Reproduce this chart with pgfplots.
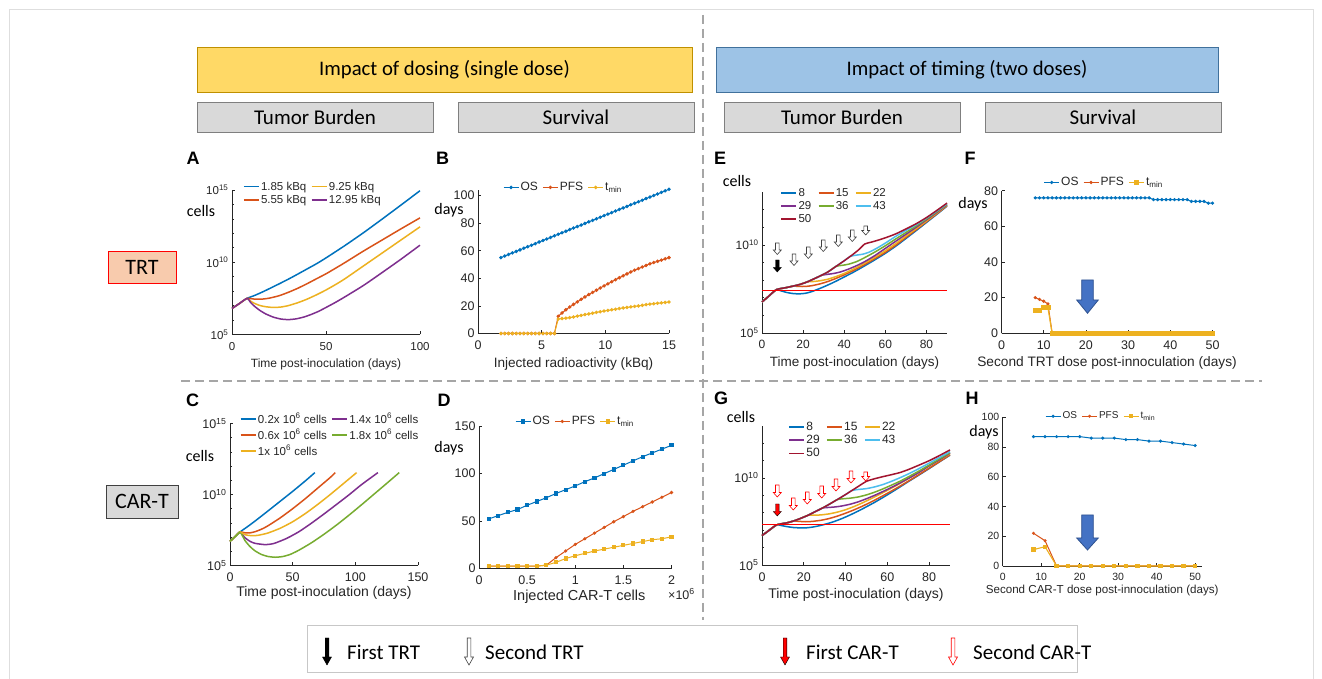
\documentclass[border=0pt]{standalone}
\usepackage{fontspec}
\setmainfont{Liberation Sans}
\newfontfamily\calibri{Carlito}
\usepackage{pgfplots}
\usepackage{pgfplotstable}
\pgfplotsset{compat=1.18}

\definecolor{mblue}{RGB}{0,114,189}
\definecolor{morange}{RGB}{217,83,25}
\definecolor{myellow}{RGB}{237,177,32}
\definecolor{mpurple}{RGB}{126,47,142}
\definecolor{mgreen}{RGB}{119,172,48}
\definecolor{mcyan}{RGB}{77,190,238}
\definecolor{mdred}{RGB}{162,20,47}
\definecolor{axc}{RGB}{38,38,38}
\definecolor{hdryel}{RGB}{255,217,102}
\definecolor{hdryelb}{RGB}{191,144,0}
\definecolor{hdrblue}{RGB}{157,195,230}
\definecolor{hdrblueb}{RGB}{65,113,156}
\definecolor{boxgray}{RGB}{217,217,217}
\definecolor{boxgrayb}{RGB}{127,127,127}
\definecolor{trtfill}{RGB}{248,203,173}
\definecolor{arrblue}{RGB}{68,114,196}
\definecolor{arrblueb}{RGB}{47,82,143}
\definecolor{dashc}{RGB}{166,166,166}

\pgfplotstableread{
x os pfs tmin
1.8 55.0 0 0
2.1 56.1 0 0
2.4 57.3 0 0
2.7 58.4 0 0
3.0 59.5 0 0
3.3 60.6 0 0
3.6 61.8 0 0
3.9 62.9 0 0
4.2 64.0 0 0
4.5 65.1 0 0
4.8 66.3 0 0
5.1 67.4 0 0
5.4 68.5 0 0
5.7 69.6 0 0
6.0 70.8 0 0
6.3 71.9 12.5 10.5
6.6 73.0 14.9 10.8
6.9 74.1 17.2 11.1
7.2 75.3 19.2 11.5
7.5 76.4 21.1 12.0
7.8 77.5 22.9 12.6
8.1 78.6 24.8 13.1
8.4 79.8 26.5 13.7
8.7 80.9 28.2 14.2
9.0 82.0 29.8 14.7
9.3 83.1 31.4 15.3
9.6 84.3 33.0 15.8
9.9 85.4 34.5 16.3
10.2 86.5 36.0 16.7
10.5 87.6 37.5 17.2
10.8 88.8 39.0 17.6
11.1 89.9 40.4 18.1
11.4 91.0 41.8 18.5
11.7 92.1 43.2 18.9
12.0 93.3 44.6 19.3
12.3 94.4 45.9 19.6
12.6 95.5 47.0 20.0
12.9 96.6 48.2 20.4
13.2 97.8 49.3 20.9
13.5 98.9 50.5 21.3
13.8 100.0 51.4 21.6
14.1 101.1 52.3 21.9
14.4 102.3 53.2 22.2
14.7 103.4 54.1 22.5
15.0 104.5 55.0 22.8
}\tabB

\pgfplotstableread{
x os pfs tmin
0.1 52 2 2
0.2 55.5 2 2
0.3 59 2 2
0.4 62 2 2
0.5 66.5 2 2
0.6 70.5 2 2
0.7 74.5 3 3
0.8 79 11 6
0.9 83 18 10
1.0 87 25 13
1.1 91.5 31 15.5
1.2 95.5 37 18
1.3 100 43 20
1.4 104.5 49 22
1.5 109 54.5 24
1.6 113.5 60 26
1.7 118 65 28
1.8 122 70 30
1.9 126 75 31
2.0 130 80 33
}\tabD

\pgfplotstableread{
t os pfs tmin
8 76 20 13
9 76 19 13
10 76 18 14.5
11 76 16.5 14.5
12 76 0 0
13 76 0 0
14 76 0 0
15 76 0 0
16 76 0 0
17 76 0 0
18 76 0 0
19 76 0 0
20 76 0 0
21 76 0 0
22 76 0 0
23 76 0 0
24 76 0 0
25 76 0 0
26 76 0 0
27 76 0 0
28 76 0 0
29 76 0 0
30 76 0 0
31 76 0 0
32 76 0 0
33 76 0 0
34 76 0 0
35 76 0 0
36 75 0 0
37 75 0 0
38 75 0 0
39 75 0 0
40 75 0 0
41 75 0 0
42 75 0 0
43 75 0 0
44 75 0 0
45 74 0 0
46 74 0 0
47 74 0 0
48 74 0 0
49 73 0 0
50 73 0 0
}\tabF

\pgfplotstableread{
t os pfs tmin
8 87 22 11
11 87 17 13
14 87 0 0
17 87 0 0
20 87 0 0
23 86 0 0
26 86 0 0
29 86 0 0
32 85 0 0
35 85 0 0
38 84 0 0
41 84 0 0
44 83 0 0
47 82 0 0
50 81 0 0
}\tabH

\pgfplotsset{
  mat/.style={
    scale only axis, anchor=south west, clip=false,
    axis lines=left, axis line style={axc, line width=0.7pt, -},
    tick align=inside, major tick length=3pt, minor tick length=2pt,
    tick style={axc, line width=0.6pt},
    tick label style={text=axc},
    xticklabel style={yshift=-4pt},
    /pgf/number format/assume math mode=true,
    xlabel style={text=axc, at={(axis description cs:0.5,0)}, anchor=center},
    legend style={draw=none, fill=none, inner sep=0pt, outer sep=0pt, text=axc,
      anchor=north west, row sep=1pt,
      nodes={inner xsep=1.5pt, inner ysep=0.5pt},
      /tikz/every even column/.append style={column sep=3pt}},
    legend cell align=left,
    legend image code/.code={\draw[mark repeat=2,mark phase=2,##1] plot coordinates {(0pt,0pt) (7.5pt,0pt) (15pt,0pt)};},
  },
  fonts/.style n args={4}{
    tick label style={font=\fontsize{#1}{#1}\selectfont},
    xlabel style={font=\fontsize{#2}{#2}\selectfont, yshift=-#4pt},
    legend style={font=\fontsize{#3}{#3}\selectfont},
  },
  logcells/.style={ytick={5,10,15}, yticklabels={10\textsuperscript{5},10\textsuperscript{10},10\textsuperscript{15}}, minor ytick={6,7,8,9,11,12,13,14}},
  crv/.style={line width=1.5pt, smooth, tension=0.35},
}

\newcommand{\darrow}[7]{\draw[#7] ({#1-#4},{#2}) -- ({#1+#4},{#2}) -- ({#1+#4},{#2-#3+#6}) -- ({#1+#5},{#2-#3+#6}) -- ({#1},{#2-#3}) -- ({#1-#5},{#2-#3+#6}) -- ({#1-#4},{#2-#3+#6}) -- cycle;}

\begin{document}
\begin{tikzpicture}[x=1pt,y=1pt]
\useasboundingbox (0,0) rectangle (1322,679);
\fill[white] (0,0) rectangle (1322,679);
\draw[black!13, line width=1pt] (9,0) -- (9,669) -- (1313,669) -- (1313,0);

% headers
\draw[hdryelb, line width=0.8pt, fill=hdryel] (197,587) rectangle (692,632);
\node[font=\calibri\fontsize{20.7}{24}\selectfont] at (444.5,609.5) {Impact of dosing (single dose)};
\draw[hdrblueb, line width=0.8pt, fill=hdrblue] (716,587) rectangle (1218,632);
\node[font=\calibri\fontsize{20.7}{24}\selectfont] at (967,609.5) {Impact of timing (two doses)};
\foreach \xa/\xb/\hh in {197/433/Tumor Burden, 458/694/Survival, 724/960/Tumor Burden, 985/1221/Survival}{
  \draw[boxgrayb, line width=0.8pt, fill=boxgray] (\xa,547) rectangle (\xb,577);
  \node[font=\calibri\fontsize{21}{24}\selectfont] at ({(\xa+\xb)/2},562) {\hh};
}
\draw[red, line width=0.8pt, fill=trtfill] (108,396) rectangle (176,428);
\node[font=\calibri\fontsize{22}{24}\selectfont] at (142,412) {TRT};
\draw[black!75, line width=0.8pt, fill=boxgray] (106,161) rectangle (178,194);
\node[font=\calibri\fontsize{22}{24}\selectfont] at (142,177.5) {CAR-T};

% separators
\draw[dashc, line width=1.3pt, dash pattern=on 9pt off 5pt] (703,664) -- (703,59);
\draw[dashc, line width=1.3pt, dash pattern=on 9pt off 5pt] (181,298) -- (1262,298);

% bottom legend
\draw[black!22, line width=0.8pt] (307,7) rectangle (1077,54);
\darrow{327}{41}{27}{1.8}{4.5}{8}{fill=black}
\node[anchor=west, inner sep=0pt, font=\calibri\fontsize{21}{24}\selectfont] at (347,27) {First TRT};
\darrow{469}{41}{27}{1.8}{4.5}{8}{draw=black!75, fill=white, line width=0.6pt}
\node[anchor=west, inner sep=0pt, font=\calibri\fontsize{21}{24}\selectfont] at (485,27) {Second TRT};
\darrow{785}{41}{27}{1.8}{4.5}{8}{fill=red}
\node[anchor=west, inner sep=0pt, font=\calibri\fontsize{21}{24}\selectfont] at (806,27) {First CAR-T};
\darrow{953}{41}{27}{1.8}{4.5}{8}{draw=red, fill=white, line width=0.6pt}
\node[anchor=west, inner sep=0pt, font=\calibri\fontsize{21}{24}\selectfont] at (973,27) {Second CAR-T};

% panel letters
\foreach \px/\py/\pl in {193/521/A, 442.5/521/B, 720/521/E, 970/521/F, 192.5/279/C, 444/279/D, 721/281/G, 972/281/H}{
  \node[font=\bfseries\fontsize{18}{18}\selectfont] at (\px,\py) {\pl};
}
% y labels
\foreach \px/\py/\pl in {201/462/cells, 449/464/days, 200/217/cells, 449/226/days, 737/492/cells, 973/470/days, 741/256/cells, 984/242/days}{
  \node[anchor=base, inner sep=0pt, font=\calibri\fontsize{16}{16}\selectfont] at (\px,\py) {\pl};
}

% ---------------- A
\begin{axis}[mat, fonts={11.5}{12}{11.5}{29.5}, at={(232pt,344.5pt)}, width=188pt, height=144.5pt,
  xmin=0, xmax=100, ymin=5, ymax=15, xtick={0,50,100}, logcells,
  xlabel={Time post-inoculation (days)},
  legend columns=2, legend style={at={(0.0585,1.06)}, row sep=2.5pt}]
\addplot[crv, mblue] coordinates {(0,6.8) (4,7.15) (8,7.5) (12,7.7) (16,7.93) (20,8.18) (25,8.5) (30,8.83) (35,9.18) (40,9.54) (45,9.9) (50,10.3) (60,11.15) (70,12.05) (80,13.0) (90,13.97) (100,14.95)};
\addplot[crv, myellow] coordinates {(0,6.8) (4,7.15) (8,7.5) (10,7.3) (12,7.15) (15,7.0) (18,6.92) (22,6.87) (26,6.9) (30,7.0) (35,7.2) (40,7.45) (45,7.75) (50,8.08) (55,8.45) (60,8.85) (70,9.75) (80,10.65) (90,11.55) (100,12.45)};
\addplot[crv, morange] coordinates {(0,6.8) (4,7.15) (8,7.5) (11,7.46) (14,7.44) (17,7.46) (20,7.52) (25,7.68) (30,7.92) (35,8.2) (40,8.52) (45,8.86) (50,9.2) (55,9.58) (60,9.97) (70,10.78) (80,11.55) (90,12.32) (100,13.07)};
\addplot[crv, mpurple] coordinates {(0,6.8) (4,7.15) (8,7.5) (10,7.2) (12,6.95) (15,6.65) (18,6.42) (22,6.2) (26,6.07) (30,6.03) (34,6.08) (38,6.2) (42,6.38) (46,6.6) (50,6.87) (55,7.22) (60,7.6) (70,8.4) (80,9.3) (90,10.22) (100,11.18)};
\legend{1.85 kBq, 9.25 kBq, 5.55 kBq, 12.95 kBq}
\end{axis}

% ---------------- B
\begin{axis}[mat, fonts={12.5}{13.6}{12}{30.5}, at={(478pt,345.5pt)}, width=191pt, height=143.5pt,
  xmin=0, xmax=15, ymin=0, ymax=104, xtick={0,5,10,15}, ytick={0,20,40,60,80,100},
  xlabel={Injected radioactivity (kBq)},
  legend columns=3, legend style={at={(0.131,1.056)}}]
\addplot[mblue, line width=1pt, mark=*, mark size=1.2pt] table[x=x,y=os] {\tabB};
\addplot[morange, line width=1pt, mark=*, mark size=1.2pt] table[x=x,y=pfs] {\tabB};
\addplot[myellow, line width=1pt, mark=*, mark size=1.2pt] table[x=x,y=tmin] {\tabB};
\legend{OS, PFS, t\textsubscript{min}}
\end{axis}

% ---------------- C
\begin{axis}[mat, fonts={12.5}{14}{11.5}{27.5}, at={(230pt,113.5pt)}, width=188pt, height=142pt,
  xmin=0, xmax=150, ymin=5, ymax=15, xtick={0,50,100,150}, logcells,
  xlabel={Time post-inoculation (days)},
  legend columns=2, legend style={at={(0.053,1.075)}, row sep=3.5pt}]
\addplot[crv, mblue] coordinates {(0,6.7) (4,7.03) (8,7.36) (15,7.8) (20,8.13) (30,8.82) (40,9.52) (50,10.22) (60,10.95) (67.7,11.54)};
\addplot[crv, mpurple] coordinates {(0,6.7) (4,7.03) (8,7.36) (12,6.95) (16,6.7) (20,6.56) (28,6.47) (35,6.55) (45,6.9) (55,7.38) (65,7.98) (75,8.63) (85,9.3) (95,9.98) (105,10.7) (118,11.54)};
\addplot[crv, morange] coordinates {(0,6.7) (4,7.03) (8,7.36) (12,7.3) (16,7.3) (20,7.38) (25,7.55) (30,7.78) (40,8.35) (50,9.0) (60,9.7) (70,10.45) (80,11.2) (84,11.54)};
\addplot[crv, mgreen] coordinates {(0,6.7) (4,7.03) (8,7.36) (12,6.75) (16,6.33) (20,6.03) (25,5.78) (30,5.64) (36,5.58) (42,5.63) (48,5.78) (55,6.08) (65,6.6) (75,7.2) (85,7.85) (95,8.55) (105,9.28) (115,10.03) (125,10.78) (135,11.54)};
\addplot[crv, myellow] coordinates {(0,6.7) (4,7.03) (8,7.36) (12,7.17) (17,7.1) (22,7.12) (30,7.28) (40,7.62) (50,8.08) (60,8.65) (70,9.3) (80,10.0) (90,10.73) (101,11.54)};
\addplot[crv, mgreen, forget plot] coordinates {(0,6.7) (4,7.03) (8,7.36)};
\legend{0.2x 10\textsuperscript{6} cells, 1.4x 10\textsuperscript{6} cells, 0.6x 10\textsuperscript{6} cells, 1.8x 10\textsuperscript{6} cells, 1x 10\textsuperscript{6} cells}
\end{axis}

% ---------------- D
\begin{axis}[mat, fonts={12.5}{14.5}{12}{29}, at={(479pt,111pt)}, width=192.5pt, height=141.5pt,
  xmin=0, xmax=2, ymin=0, ymax=150, xtick={0,0.5,1,1.5,2}, ytick={0,50,100,150},
  xlabel={Injected CAR-T cells}, xlabel style={xshift=4pt},
  legend columns=3, legend style={at={(0.187,1.074)}}]
\addplot[mblue, line width=1pt, mark=square*, mark size=1.6pt] table[x=x,y=os] {\tabD};
\addplot[morange, line width=1pt, mark=*, mark size=1.1pt] table[x=x,y=pfs] {\tabD};
\addplot[myellow, line width=1pt, mark=square*, mark size=1.6pt] table[x=x,y=tmin] {\tabD};
\legend{OS, PFS, t\textsubscript{min}}
\end{axis}
\node[anchor=west, inner sep=0pt, text=axc, font=\fontsize{12.5}{12.5}\selectfont] at (668,85) {×10\textsuperscript{6}};

% ---------------- E
\begin{axis}[mat, fonts={12}{13.5}{11.5}{29.7}, at={(762pt,346pt)}, width=185pt, height=141pt,
  xmin=0, xmax=90, ymin=5, ymax=13, xtick={0,20,40,60,80}, ytick={5,10}, yticklabels={10\textsuperscript{5},10\textsuperscript{10}}, minor ytick={6,7,8,9,11,12},
  xlabel={Time post-inoculation (days)},
  legend columns=3, legend style={at={(0.10,1.03)}, row sep=2.5pt, /tikz/every even column/.append style={column sep=5pt}}]
\addplot[crv, mblue] coordinates {(0,6.76) (3,7.06) (7,7.46) (9,7.4) (12,7.3) (15,7.24) (18,7.22) (21,7.25) (24,7.34) (28,7.52) (32,7.72) (36,7.94) (40,8.18) (44,8.42) (48,8.68) (52,8.95) (56,9.23) (60,9.52) (65,9.92) (70,10.36) (75,10.81) (80,11.27) (85,11.73) (90,12.2)};
\addplot[crv, morange] coordinates {(0,6.76) (3,7.06) (7,7.46) (10,7.53) (12,7.58) (15,7.66) (18,7.64) (21,7.64) (24,7.68) (28,7.78) (32,7.92) (36,8.1) (40,8.3) (44,8.52) (48,8.76) (52,9.02) (56,9.3) (60,9.58) (65,9.98) (70,10.42) (75,10.86) (80,11.31) (85,11.76) (90,12.22)};
\addplot[crv, myellow] coordinates {(0,6.76) (3,7.06) (7,7.46) (12,7.58) (18,7.74) (22,7.9) (25,7.92) (28,7.96) (32,8.05) (36,8.2) (40,8.38) (44,8.6) (48,8.84) (52,9.1) (56,9.38) (60,9.67) (65,10.07) (70,10.5) (75,10.92) (80,11.36) (85,11.8) (90,12.25)};
\addplot[crv, mpurple] coordinates {(0,6.76) (3,7.06) (7,7.46) (12,7.58) (18,7.74) (22,7.9) (28,8.22) (29,8.28) (32,8.33) (35,8.38) (38,8.46) (42,8.62) (46,8.82) (50,9.05) (55,9.4) (60,9.8) (65,10.2) (70,10.6) (75,11.0) (80,11.42) (85,11.84) (90,12.27)};
\addplot[crv, mgreen] coordinates {(0,6.76) (3,7.06) (7,7.46) (12,7.58) (18,7.74) (22,7.9) (28,8.22) (32,8.46) (36,8.78) (39,8.84) (42,8.9) (46,9.05) (50,9.28) (55,9.6) (60,9.95) (65,10.33) (70,10.7) (75,11.08) (80,11.47) (85,11.88) (90,12.3)};
\addplot[crv, mcyan] coordinates {(0,6.76) (3,7.06) (7,7.46) (12,7.58) (18,7.74) (22,7.9) (28,8.22) (32,8.46) (36,8.78) (40,9.1) (43,9.35) (46,9.42) (49,9.47) (52,9.58) (56,9.82) (60,10.1) (65,10.48) (70,10.82) (75,11.15) (80,11.52) (85,11.92) (90,12.33)};
\addplot[crv, mdred] coordinates {(0,6.76) (3,7.06) (7,7.46) (12,7.58) (18,7.74) (22,7.9) (28,8.22) (32,8.46) (36,8.78) (40,9.1) (44,9.44) (47,9.72) (50,10.05) (53,10.15) (56,10.25) (60,10.4) (65,10.62) (70,10.9) (75,11.2) (80,11.55) (85,11.95) (90,12.37)};
\addplot[red, line width=1pt, forget plot] coordinates {(0,7.4) (90,7.4)};
\legend{8, 15, 22, 29, 36, 43, 50}
\end{axis}

% ---------------- F
\begin{axis}[mat, fonts={12.5}{13.7}{12}{29.4}, at={(1001.5pt,345.7pt)}, width=211pt, height=142.6pt,
  xmin=0, xmax=50, ymin=0, ymax=80, xtick={0,10,20,30,40,50}, ytick={0,20,40,60,80},
  xlabel={Second TRT dose post-innoculation (days)},
  legend columns=3, legend style={at={(0.2,1.096)}}]
\addplot[mblue, line width=1pt, mark=*, mark size=1.1pt] table[x=t,y=os] {\tabF};
\addplot[morange, line width=1pt, mark=*, mark size=1.1pt] table[x=t,y=pfs] {\tabF};
\addplot[myellow, line width=1.2pt, mark=square*, mark size=2pt] table[x=t,y=tmin] {\tabF};
\legend{OS, PFS, t\textsubscript{min}}
\end{axis}

% ---------------- G
\begin{axis}[mat, fonts={12.5}{14}{12}{30}, at={(762pt,114pt)}, width=188pt, height=139.5pt,
  xmin=0, xmax=90, ymin=5, ymax=13, xtick={0,20,40,60,80}, ytick={5,10}, yticklabels={10\textsuperscript{5},10\textsuperscript{10}}, minor ytick={6,7,8,9,11,12},
  xlabel={Time post-inoculation (days)},
  legend columns=3, legend style={at={(0.14,1.03)}, row sep=2.5pt, /tikz/every even column/.append style={column sep=5pt}}]
\addplot[crv, mblue] coordinates {(0,6.69) (3,6.95) (7,7.3) (9,7.27) (12,7.2) (15,7.15) (18,7.13) (21,7.13) (24,7.17) (27,7.24) (30,7.33) (34,7.47) (38,7.65) (42,7.86) (46,8.09) (50,8.34) (54,8.6) (58,8.88) (62,9.17) (66,9.47) (70,9.78) (75,10.15) (80,10.53) (85,10.92) (90,11.3)};
\addplot[crv, morange] coordinates {(0,6.69) (3,6.95) (7,7.3) (12,7.42) (15,7.52) (18,7.5) (21,7.48) (24,7.5) (28,7.56) (32,7.66) (36,7.8) (40,7.97) (44,8.16) (48,8.37) (52,8.6) (56,8.85) (60,9.11) (64,9.38) (68,9.66) (72,9.95) (76,10.25) (80,10.55) (85,10.93) (90,11.32)};
\addplot[crv, myellow] coordinates {(0,6.69) (3,6.95) (7,7.3) (12,7.42) (15,7.52) (18,7.65) (22,7.85) (25,7.86) (28,7.87) (32,7.93) (36,8.03) (40,8.17) (44,8.35) (48,8.56) (52,8.79) (56,9.03) (60,9.28) (64,9.54) (68,9.81) (72,10.09) (76,10.38) (80,10.67) (85,11.02) (90,11.38)};
\addplot[crv, mpurple] coordinates {(0,6.69) (3,6.95) (7,7.3) (12,7.42) (15,7.52) (18,7.65) (22,7.85) (25,8.03) (29,8.27) (32,8.3) (35,8.33) (38,8.38) (42,8.48) (46,8.62) (50,8.8) (54,9.0) (58,9.22) (62,9.45) (66,9.7) (70,9.96) (75,10.3) (80,10.69) (85,11.04) (90,11.42)};
\addplot[crv, mgreen] coordinates {(0,6.69) (3,6.95) (7,7.3) (12,7.42) (15,7.52) (18,7.65) (22,7.85) (25,8.03) (29,8.27) (32,8.47) (36,8.75) (39,8.8) (42,8.83) (46,8.9) (50,9.02) (54,9.18) (58,9.37) (62,9.58) (66,9.8) (70,10.05) (75,10.38) (80,10.73) (85,11.09) (90,11.45)};
\addplot[crv, mcyan] coordinates {(0,6.69) (3,6.95) (7,7.3) (12,7.42) (15,7.52) (18,7.65) (22,7.85) (25,8.03) (29,8.27) (32,8.47) (36,8.75) (40,9.04) (43,9.27) (46,9.33) (50,9.38) (54,9.48) (58,9.62) (62,9.8) (66,10.0) (70,10.22) (75,10.52) (80,10.84) (85,11.17) (90,11.5)};
\addplot[crv, mdred] coordinates {(0,6.69) (3,6.95) (7,7.3) (12,7.42) (15,7.52) (18,7.65) (22,7.85) (25,8.03) (29,8.27) (32,8.47) (36,8.75) (40,9.04) (43,9.27) (46,9.5) (50,9.8) (54,9.95) (58,10.07) (62,10.18) (66,10.3) (70,10.47) (75,10.72) (80,10.98) (85,11.28) (90,11.6)};
\addplot[red, line width=1pt, forget plot] coordinates {(0,7.31) (90,7.31)};
\legend{8, 15, 22, 29, 36, 43, 50}
\end{axis}

% ---------------- H
\begin{axis}[mat, fonts={10.5}{11.6}{10}{24.7}, at={(1002.7pt,113pt)}, width=199pt, height=148.7pt,
  xmin=0, xmax=51.7, ymin=0, ymax=100, xtick={0,10,20,30,40,50}, ytick={0,20,40,60,80,100},
  xlabel={Second CAR-T dose post-innoculation (days)},
  legend columns=3, legend style={at={(0.213,1.039)}}]
\addplot[mblue, line width=1pt, mark=*, mark size=1pt] table[x=t,y=os] {\tabH};
\addplot[morange, line width=1pt, mark=*, mark size=1pt] table[x=t,y=pfs] {\tabH};
\addplot[myellow, line width=1.1pt, mark=square*, mark size=1.6pt] table[x=t,y=tmin] {\tabH};
\legend{OS, PFS, t\textsubscript{min}}
\end{axis}

% annotation arrows E
\foreach \ax/\ay/\ah in {777.3/436/11.5, 794/425/11.5, 808.3/432/11.5, 823.3/439/11.5, 838.3/444/11.5, 852.3/449/11.5, 865.7/453/9}{
  \darrow{\ax}{\ay}{\ah}{1.8}{4}{4.5}{draw=black!75, fill=white, line width=0.6pt}
}
\darrow{777.3}{419}{12}{1.8}{4}{4.5}{fill=black}
% annotation arrows G
\foreach \ax/\ay/\ah in {777.3/194/12, 793.3/181/12, 807.3/187/12, 821.7/193/12, 836/200/12, 851/208/12, 865.7/207/9}{
  \darrow{\ax}{\ay}{\ah}{1.8}{4}{4.5}{draw=red, fill=white, line width=0.6pt}
}
\darrow{777.3}{175}{12}{1.8}{4}{4.5}{fill=red}
% blue arrows F and H
\draw[arrblueb, fill=arrblue, line width=0.8pt] (1081.7,399) -- (1093.3,399) -- (1093.3,379) -- (1098.3,379) -- (1087.5,365.7) -- (1076.7,379) -- (1081.7,379) -- cycle;
\draw[arrblueb, fill=arrblue, line width=0.8pt] (1081.7,164) -- (1093.3,164) -- (1093.3,141) -- (1098.3,141) -- (1087.5,129) -- (1076.7,141) -- (1081.7,141) -- cycle;
\end{tikzpicture}
\end{document}
